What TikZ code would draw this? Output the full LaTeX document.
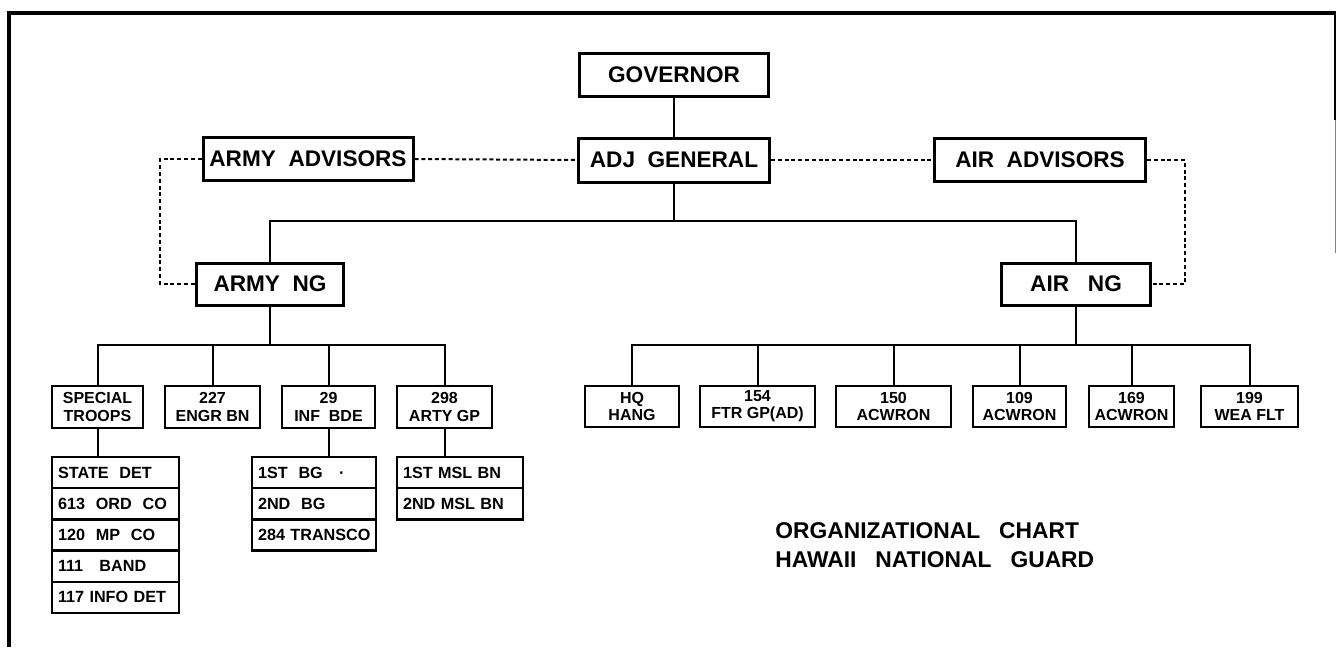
\documentclass[tikz,border=0pt]{standalone}
\usepackage{fontspec}
\setmainfont{Liberation Sans}
\begin{document}
\begin{tikzpicture}[x=0.5pt,y=-0.5pt,
  mainbox/.style={draw, line width=1.5pt, inner sep=0pt,
    font=\bfseries\fontsize{11.3}{13}\selectfont},
  childbox/.style={draw, line width=1.4pt, inner sep=0pt, align=center,
    font=\bfseries\fontsize{8}{8.6}\selectfont},
  rowbox/.style={draw, line width=1.2pt, anchor=north west, minimum height=15.6pt,
    inner xsep=3pt, inner ysep=0pt, outer sep=0pt, align=left,
    font=\bfseries\fontsize{8.1}{9}\selectfont},
  titletext/.style={anchor=west, inner sep=0pt,
    font=\bfseries\fontsize{11.4}{13}\selectfont},
  link/.style={line width=1pt},
  dotlink/.style={line width=1pt, dash pattern=on 2pt off 1.4pt}]
\useasboundingbox (0,0) rectangle (1336,647);
% frame
\draw[line width=2pt] (1336,13) -- (9,13) -- (9,647);
\draw[line width=1pt] (1335,13) -- (1335,120);
\draw[line width=0.5pt, gray] (1335,120) -- (1335,253);
% top level
\node[mainbox, minimum width=94.5pt, minimum height=21.5pt] (gov) at (674,75) {GOVERNOR};
\node[mainbox, minimum width=105pt, minimum height=21.5pt] (armyadv) at (308,159) {ARMY\ \ ADVISORS};
\node[mainbox, minimum width=95.5pt, minimum height=22pt] (adj) at (674,160) {ADJ\ \ GENERAL};
\node[mainbox, minimum width=105.5pt, minimum height=21.5pt] (airadv) at (1040,160) {AIR\ \ ADVISORS};
\node[mainbox, minimum width=73.5pt, minimum height=21pt] (armyng) at (270,284) {ARMY\ \ NG};
\node[mainbox, minimum width=74.5pt, minimum height=21pt] (airng) at (1076,284) {AIR\ \ \ NG};
% army children
\node[childbox, minimum width=45.5pt, minimum height=21pt] (st) at (97.5,407) {SPECIAL\\TROOPS};
\node[childbox, minimum width=47.5pt, minimum height=21pt] (engr) at (212.5,407) {227\\ENGR BN};
\node[childbox, minimum width=46.5pt, minimum height=21pt] (inf) at (328.5,407) {29\\INF\ \ BDE};
\node[childbox, minimum width=47.5pt, minimum height=21pt] (arty) at (444.5,407) {298\\ARTY GP};
% air children
\node[childbox, minimum width=47pt, minimum height=20.5pt] (hq) at (632,406.5) {HQ\\HANG};
\node[childbox, minimum width=57.5pt, minimum height=20.5pt] (ftr) at (757.5,406.5) {154\\FTR GP(AD)};
\node[childbox, minimum width=57.5pt, minimum height=20.5pt] (acw150) at (893.5,406.5) {150\\ACWRON};
\node[childbox, minimum width=46.5pt, minimum height=20.5pt] (acw109) at (1019.5,406.5) {109\\ACWRON};
\node[childbox, minimum width=42.5pt, minimum height=20.5pt] (acw169) at (1131.5,406.5) {169\\ACWRON};
\node[childbox, minimum width=48.5pt, minimum height=20.5pt] (wea) at (1249.5,406.5) {199\\WEA FLT};
% lists
\node[rowbox, text width=57.5pt] (s1) at (52,457) {STATE\ \ DET};
\node[rowbox, text width=57.5pt] (s2) at (s1.south west) {613\ \ ORD\ \ CO};
\node[rowbox, text width=57.5pt] (s3) at (s2.south west) {120\ \ MP\ \ CO};
\node[rowbox, text width=57.5pt] (s4) at (s3.south west) {111\ \ \ BAND};
\node[rowbox, text width=57.5pt] (s5) at (s4.south west) {117 INFO DET};
\node[rowbox, text width=56pt] (i1) at (252,457) {1ST\ \ BG\ \ \ ·};
\node[rowbox, text width=56pt] (i2) at (i1.south west) {2ND\ \ BG};
\node[rowbox, text width=56pt] (i3) at (i2.south west) {\mbox{284 TRANSCO}};
\node[rowbox, text width=57pt] (a1) at (397,457) {1ST MSL BN};
\node[rowbox, text width=57pt] (a2) at (a1.south west) {2ND MSL BN};
% bars
\coordinate (bartop) at (0,221);
\coordinate (bararmy) at (0,345);
\coordinate (barair) at (0,345);
% solid connectors
\draw[link] (gov.south) -- (adj.north);
\draw[link] (adj.south) -- (adj.south |- bartop) coordinate (jt);
\draw[link] (armyng.north) |- (jt) -| (airng.north);
\draw[link] (armyng.south) -- (armyng.south |- bararmy) coordinate (ja);
\draw[link] (st.north) |- (ja) -| (arty.north);
\draw[link] (engr.north) -- (engr.north |- ja);
\draw[link] (inf.north) -- (inf.north |- ja);
\draw[link] (airng.south) -- (airng.south |- barair) coordinate (jr);
\draw[link] (hq.north) |- (jr) -| (wea.north);
\draw[link] (ftr.north) -- (ftr.north |- jr);
\draw[link] (acw150.north) -- (acw150.north |- jr);
\draw[link] (acw109.north) -- (acw109.north |- jr);
\draw[link] (acw169.north) -- (acw169.north |- jr);
\draw[link] (st.south) -- (st.south |- s1.north);
\draw[link] (inf.south) -- (inf.south |- i1.north);
\draw[link] (arty.south) -- (arty.south |- a1.north);
% dotted connectors
\coordinate (dl) at (160,0);
\coordinate (dr) at (1185,0);
\draw[dotlink] (armyadv.west) -- (armyadv.west -| dl) |- (armyng.west);
\draw[dotlink] (armyadv.east) -- (adj.west);
\draw[dotlink] (adj.east) -- (airadv.west);
\draw[dotlink] (airadv.east) -- (airadv.east -| dr) |- (airng.east);
% title
\node[titletext] (t1) at (775,531) {ORGANIZATIONAL\ \ \ CHART};
\node[titletext] (t2) at (775,560) {HAWAII\ \ \ NATIONAL\ \ \ GUARD};
\end{tikzpicture}
\end{document}
